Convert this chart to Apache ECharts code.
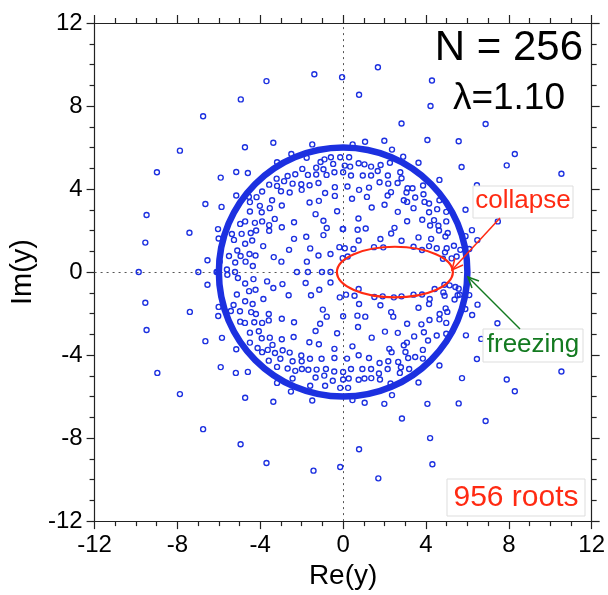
<!DOCTYPE html>
<html>
<head>
<meta charset="utf-8">
<script src="https://cdn.jsdelivr.net/npm/echarts@6.0.0/dist/echarts.min.js"></script>
<style>
  html, body { margin: 0; padding: 0; background: #fff; }
  #chart { width: 608px; height: 595px; }
</style>
</head>
<body>
<div id="chart"></div>
<script>
// axis ticks
const xTicks = [-12, -8, -4, 0, 4, 8, 12]
const yTicks = [-12, -8, -4, 0, 4, 8, 12]

// roots outside the freezing ring
const farRoots = [
  [-0.05, 9.39], [-1.39, 9.53], [1.68, 9.87], [-3.70, 9.20], [-4.94, 8.32], [-6.76, 7.51],
  [4.29, 9.23], [4.22, 8.00], [2.82, 7.16], [6.88, 7.13], [0.77, 8.54], [-7.88, 5.85],
  [-8.99, 4.81], [-6.65, 3.28], [-9.49, 2.75], [-7.42, 1.89], [-9.55, 1.42], [-6.55, 0.57],
  [-9.87, 0], [-6.99, 0], [-6.11, 0], [-6.04, 2.07], [-5.91, 4.55], [-5.87, 3.14], [-6.01, 1.62],
  [-5.16, 4.82], [-4.60, 4.77], [-5.16, 3.69],
  [5.58, 6.30], [8.29, 5.69], [5.72, 5.06], [7.90, 5.14], [10.54, 4.74], [6.46, 4.18],
  [5.91, 3.00], [7.47, 2.44], [6.22, 2.02], [6.48, 1.54], [6.09, 1.11], [6.67, 3.22], [5.91, 1.73],
  [0.46, 6.15], [1.06, 6.28], [1.99, 6.33], [4.07, 6.36], [-1.49, 6.15], [-3.37, 6.23], [-4.74, 6.01],
  [2.36, 5.90], [3.64, 5.27], [4.65, 4.44],
  [-9.55, -1.48], [-7.40, -1.92], [-6.55, -0.61], [-6.01, -1.68], [-6.03, -2.12], [-9.49, -2.79],
  [-6.65, -3.33], [-5.85, -3.17], [-5.91, -4.58], [-8.97, -4.86], [-7.88, -5.88], [-4.73, -6.06],
  [-6.76, -7.57], [-4.95, -8.30], [-3.70, -9.20], [-1.43, -9.57], [-0.14, -9.39], [1.70, -9.94],
  [4.31, -9.26], [0.77, -8.54], [4.20, -8.00], [2.84, -7.06], [6.88, -7.18], [5.58, -6.33],
  [8.29, -5.74], [7.90, -5.18], [10.54, -4.79], [5.74, -5.11], [6.46, -4.19], [6.67, -3.22],
  [5.93, -3.05], [7.45, -2.47], [6.23, -2.07], [6.49, -1.57], [6.09, -1.11], [5.90, -1.78],
  [-1.49, -6.19], [-3.37, -6.25], [0.45, -6.17], [1.04, -6.30], [1.99, -6.35], [4.07, -6.35],
  [2.36, -5.93], [-5.18, -4.86], [-4.60, -4.81], [-5.16, -3.72], [3.64, -5.32], [4.65, -4.50]
]

// roots sitting on the real axis
const axisRoots = [
  [-6.07, 0], [-5.61, 0.12], [-5.59, -0.13], [-5.22, 0], [-2.23, 0], [-1.70, 0], [-1.02, 0], [-0.61, 0]
]

// roots inside the ring, by quadrant
const innerUpperLeft = [
  [-2.50, 5.69], [-3.19, 5.29], [-1.76, 5.51], [-1.09, 5.30], [-0.90, 5.43], [-0.59, 5.53], [-0.48, 5.21], [-0.14, 5.53],
  [-2.68, 4.63], [-2.31, 4.71], [-1.97, 4.97], [-1.70, 4.68], [-1.30, 5.03], [-1.30, 4.70], [-0.95, 4.95], [-0.80, 4.68], [-0.42, 4.81],
  [-3.21, 4.50], [-2.85, 4.38], [-3.57, 4.21], [-3.19, 4.15], [-2.44, 4.26], [-2.02, 4.23], [-2.00, 3.96], [-1.62, 4.18], [-1.19, 4.29], [-0.40, 4.09],
  [-3.91, 3.88], [-4.18, 3.61], [-3.00, 3.89], [-2.58, 3.83], [-0.87, 3.81], [-0.40, 3.67],
  [-4.50, 3.37], [-3.43, 3.46], [-4.02, 3.19], [-2.96, 3.21], [-1.62, 3.35], [-1.17, 3.43],
  [-3.54, 3.08], [-4.50, 2.92], [-3.93, 2.88], [-1.33, 2.79], [-0.29, 2.93],
  [-4.73, 2.44], [-4.26, 2.37], [-3.91, 2.44], [-3.30, 2.56], [-2.37, 2.40], [-4.97, 2.32], [-0.95, 2.47],
  [-4.20, 2.00], [-3.57, 2.26], [-3.57, 1.99], [-2.96, 2.16], [-0.79, 2.12], [-0.02, 2.07],
  [-5.37, 1.83], [-4.90, 1.84], [-4.46, 1.88], [-4.39, 1.52], [-5.27, 1.55], [-2.37, 1.60], [-1.78, 1.70], [-0.95, 1.78],
  [-4.73, 1.36], [-3.86, 1.25], [-1.59, 1.14], [-0.18, 1.20], [-5.11, 1.04],
  [-5.51, 0.77], [-4.95, 0.77], [-4.52, 0.87], [-4.23, 0.80], [-3.35, 0.72], [-2.61, 1.07], [-1.19, 0.80], [-0.61, 0.87],
  [-5.96, 0.51], [-5.21, 0.46], [-4.71, 0.50], [-4.36, 0.29], [-2.98, 0.50], [-1.75, 0.50], [-4.55, 3.63]
]

const innerUpperRight = [
  [2.90, 5.56], [0.29, 5.53], [0.08, 5.13], [0.34, 5.08], [0.75, 5.24], [1.03, 5.19], [1.35, 5.08], [1.81, 5.16], [2.26, 5.27],
  [0, 4.81], [0.38, 4.65], [0.95, 4.65], [1.35, 4.65], [1.67, 4.87], [2.16, 4.65], [2.76, 4.81], [2.82, 4.52],
  [1.76, 4.33], [2.18, 4.26], [2.63, 4.29], [0.21, 4.12], [0.77, 3.96], [1.25, 4.07], [2.31, 3.85], [2.15, 3.69],
  [3.11, 4.04], [3.35, 4.04], [3.06, 3.83], [3.86, 4.17], [3.88, 3.75], [0.43, 3.53], [1.15, 3.62],
  [2.93, 3.46], [3.09, 3.38], [3.48, 3.59], [3.93, 3.38], [4.15, 3.30], [4.65, 3.46], [1.38, 3.11], [2.00, 3.24],
  [3.40, 3.08], [4.15, 2.88], [4.54, 3.03], [2.64, 2.90], [4.98, 2.90], [0.74, 2.58], [3.09, 2.45], [3.82, 2.52],
  [4.39, 2.50], [4.98, 2.44],
  [0, 2.08], [0.70, 2.04], [1.09, 2.10], [2.48, 2.13], [2.32, 1.86], [4.20, 2.24], [4.60, 2.23], [4.63, 2.00],
  [5.05, 1.88], [0.75, 1.52], [1.80, 1.59], [2.82, 1.51], [3.64, 1.67], [4.25, 1.60], [4.94, 1.71],
  [0.08, 1.15], [0.50, 1.11], [1.49, 1.20], [1.94, 1.19], [3.40, 1.22], [3.81, 1.06], [4.15, 1.25], [4.52, 1.15],
  [5.00, 1.15], [5.35, 1.27], [5.66, 1.07],
  [0.22, 0.75], [-0.02, 0.67], [4.92, 0.95], [5.24, 0.66], [5.48, 0.75], [4.82, 0.64]
]

const innerLowerLeft = [
  [-5.08, -0.29], [-4.73, -0.55], [-4.33, -0.34], [-3.67, -0.45], [-2.93, -0.58], [-3.37, -0.77], [-1.81, -0.53],
  [-1.15, -0.85], [-0.61, -0.50],
  [-4.54, -0.92], [-4.23, -0.85], [-5.13, -1.08], [-2.63, -1.12], [-1.55, -1.12], [-0.16, -1.22],
  [-3.85, -1.30], [-4.73, -1.41], [-4.37, -1.54], [-5.29, -1.59], [-5.42, -1.88], [-4.98, -1.89], [-4.44, -1.93],
  [-4.21, -2.02], [-3.59, -2.02], [-0.98, -1.81], [-0.79, -2.15], [0, -2.13],
  [-4.97, -2.39], [-4.74, -2.45], [-4.29, -2.42], [-3.91, -2.45], [-3.59, -2.33], [-2.96, -2.25], [-2.37, -2.42],
  [-1.11, -2.49], [-1.33, -2.84], [-0.29, -2.95], [-4.50, -2.92], [-4.07, -2.85], [-3.93, -3.19], [-3.54, -3.16],
  [-2.96, -3.24], [-2.39, -3.13],
  [-4.50, -3.40], [-3.41, -3.51], [-1.63, -3.38], [-1.17, -3.48], [-4.13, -3.66], [-3.91, -3.86], [-3.64, -3.75],
  [-3.29, -3.90], [-2.92, -3.77], [-2.58, -3.88], [-0.42, -3.70],
  [-3.59, -4.27], [-3.03, -4.18], [-2.44, -4.30], [-2.02, -4.02], [-2.00, -4.30], [-1.60, -4.18], [-1.04, -4.18],
  [-0.42, -4.14], [-3.19, -4.57], [-2.68, -4.65], [-2.31, -4.76], [-1.99, -4.67], [-1.68, -4.71], [-1.28, -4.70],
  [-0.83, -4.67],
  [-1.33, -5.08], [-0.91, -4.99], [-0.43, -4.79], [-0.50, -5.24], [0, -5.18], [-2.44, -5.13], [-3.19, -5.34],
  [-1.59, -5.48], [-0.87, -5.48], [-0.14, -5.58], [-2.52, -5.76]
]

const innerLowerRight = [
  [0.14, -1.09], [0.55, -1.14], [0.75, -0.82], [1.51, -1.20], [1.91, -1.17], [2.45, -1.22], [2.82, -1.17],
  [3.40, -1.09], [3.81, -1.08], [4.18, -1.30], [4.42, -0.82], [4.84, -0.98], [5.14, -0.64], [5.42, -0.72],
  [5.58, -0.80], [4.90, -1.14], [5.53, -1.12], [4.89, -0.61], [5.63, -1.09], [5.38, -1.32],
  [0.77, -1.54], [1.80, -1.60], [3.64, -1.72], [4.15, -1.54], [4.95, -1.75], [0.69, -2.10], [1.07, -2.15],
  [2.32, -1.93], [2.42, -2.15], [4.66, -2.02], [5.03, -1.92], [4.17, -2.31], [4.65, -2.28], [4.98, -2.45],
  [3.09, -2.49], [0.72, -2.65], [3.78, -2.52], [2.02, -2.87], [2.64, -2.93], [3.90, -2.90], [3.43, -3.10],
  [4.10, -3.30], [4.52, -3.06], [4.98, -2.97], [1.38, -3.16], [3.08, -3.40], [2.23, -3.70], [2.93, -3.53],
  [0.45, -3.58],
  [0.75, -4.01], [1.25, -4.14], [0.19, -4.17], [2.34, -3.86], [3.01, -3.85], [3.14, -4.14], [3.48, -4.09],
  [3.85, -3.75], [3.85, -4.17], [1.76, -4.38], [2.18, -4.30], [2.66, -4.33], [2.79, -4.59], [0.38, -4.67],
  [0.93, -4.67], [1.35, -4.67], [2.15, -4.67], [0, -4.81],
  [0.27, -5.13], [0.75, -5.19], [1.03, -5.13], [1.36, -5.11], [1.78, -5.18], [1.73, -4.89], [2.29, -5.37],
  [2.74, -4.86], [3.19, -4.67], [0.24, -5.58]
]

// curves: [centerRe, centerIm, radiusRe, radiusIm]
const freezingRing = [[0, 0, 6, 6]]
const collapseOval = [[2.5, 0, 2.8, 1.22]]

const allRoots = farRoots.concat(axisRoots, innerUpperLeft, innerUpperRight, innerLowerLeft, innerLowerRight)

const FONT = 'Liberation Sans, Arial, Helvetica, sans-serif'
const blue = '#1c30e0'
const red = '#ff2a12'
const green = '#137a20'

function makeAxis (pos, withLabels) {
  return {
    type: 'value',
    position: pos,
    min: -12,
    max: 12,
    interval: 4,
    axisLine: { onZero: false, lineStyle: { color: '#222', width: 1.2 } },
    axisTick: { inside: false, length: 8, lineStyle: { color: '#222', width: 1.2 } },
    minorTick: { show: true, splitNumber: 4, length: 5, lineStyle: { color: '#222', width: 1.2 } },
    splitLine: { show: false },
    axisLabel: { show: withLabels, fontSize: 24, color: '#000', fontFamily: FONT, margin: 12 }
  }
}

function ovalItem (color, width) {
  return function (params, api) {
    const c = api.coord([api.value(0), api.value(1)])
    const s = api.size([api.value(2), api.value(3)])
    return {
      type: 'ellipse',
      shape: { cx: c[0], cy: c[1], rx: s[0], ry: s[1] },
      style: { fill: 'none', stroke: color, lineWidth: width }
    }
  }
}

const chart = echarts.init(document.getElementById('chart'))

const xBottom = makeAxis('bottom', true)
xBottom.name = 'Re(y)'
xBottom.nameLocation = 'middle'
xBottom.nameGap = 38
xBottom.nameTextStyle = { fontSize: 28, color: '#000', fontFamily: FONT }

const yLeft = makeAxis('left', true)
yLeft.name = 'Im(y)'
yLeft.nameLocation = 'middle'
yLeft.nameGap = 50
yLeft.nameTextStyle = { fontSize: 29, color: '#000', fontFamily: FONT }

const option = {
  animation: false,
  backgroundColor: '#fff',
  grid: { left: 94, right: 15, top: 23, bottom: 73 },
  xAxis: [xBottom, makeAxis('top', false)],
  yAxis: [yLeft, makeAxis('right', false)],
  series: [
    {
      type: 'scatter',
      data: allRoots,
      symbol: 'circle',
      symbolSize: 5,
      itemStyle: { color: 'rgba(0,0,0,0)', borderColor: blue, borderWidth: 1.4, opacity: 1 },
      markLine: {
        silent: true,
        symbol: ['none', 'none'],
        label: { show: false },
        lineStyle: { type: [2, 4], color: '#555', width: 1 },
        data: [{ xAxis: 0 }, { yAxis: 0 }],
        z: 1
      },
      z: 3
    },
    {
      type: 'custom',
      data: freezingRing,
      renderItem: ovalItem(blue, 6.5),
      silent: true,
      z: 4
    },
    {
      type: 'custom',
      data: collapseOval,
      renderItem: ovalItem(red, 2.2),
      silent: true,
      z: 4
    }
  ],
  graphic: [
    { type: 'text', z: 10, style: { text: 'N = 256', x: 583, y: 48, align: 'right', verticalAlign: 'middle', fontSize: 42, fontFamily: FONT, fill: '#000' } },
    { type: 'text', z: 10, style: { text: 'λ=1.10', x: 565, y: 99, align: 'right', verticalAlign: 'middle', fontSize: 37, fontFamily: FONT, fill: '#000' } },
    // collapse label + arrow
    { type: 'rect', z: 10, shape: { x: 473, y: 186, width: 100, height: 32 }, style: { fill: '#fff', stroke: '#ddd', lineWidth: 1 } },
    { type: 'text', z: 11, style: { text: 'collapse', x: 523, y: 201, align: 'center', verticalAlign: 'middle', fontSize: 26, fontFamily: FONT, fill: red } },
    { type: 'line', z: 11, shape: { x1: 500, y1: 218, x2: 452, y2: 270 }, style: { stroke: red, lineWidth: 1.5 } },
    { type: 'polyline', z: 11, shape: { points: [[455, 258], [452, 270], [463, 265]] }, style: { stroke: red, lineWidth: 1.5, fill: 'none' } },
    // freezing label + arrow
    { type: 'rect', z: 10, shape: { x: 483, y: 329, width: 100, height: 33 }, style: { fill: '#fff', stroke: '#ddd', lineWidth: 1 } },
    { type: 'text', z: 11, style: { text: 'freezing', x: 533, y: 345, align: 'center', verticalAlign: 'middle', fontSize: 26, fontFamily: FONT, fill: green } },
    { type: 'line', z: 11, shape: { x1: 520, y1: 329, x2: 468, y2: 277 }, style: { stroke: green, lineWidth: 1.5 } },
    { type: 'polyline', z: 11, shape: { points: [[472, 288], [468, 277], [479, 281]] }, style: { stroke: green, lineWidth: 1.5, fill: 'none' } },
    // root count
    { type: 'rect', z: 10, shape: { x: 447, y: 479, width: 138, height: 37 }, style: { fill: '#fff', stroke: '#ddd', lineWidth: 1 } },
    { type: 'text', z: 11, style: { text: '956 roots', x: 516, y: 498, align: 'center', verticalAlign: 'middle', fontSize: 30, fontFamily: FONT, fill: red } }
  ]
}

chart.setOption(option)
</script>
</body>
</html>
